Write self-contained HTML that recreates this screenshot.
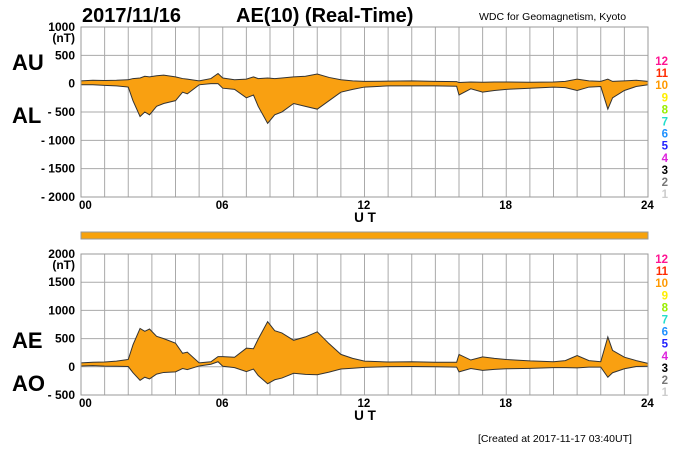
<!DOCTYPE html>
<html><head><meta charset="utf-8"><style>
body{margin:0;background:#fff;width:700px;height:450px;overflow:hidden}
svg{font-family:"Liberation Sans",Arial,sans-serif;font-weight:bold}
</style></head><body>
<svg id="c" width="700" height="450" xmlns="http://www.w3.org/2000/svg">
<text x="82" y="22" font-size="20">2017/11/16</text>
<text x="236" y="22" font-size="20">AE(10) (Real-Time)</text>
<text x="479" y="20" font-size="10.5" font-weight="normal">WDC for Geomagnetism, Kyoto</text>
<text x="12" y="70" font-size="22">AU</text>
<text x="12" y="123" font-size="22">AL</text>
<text x="12" y="348" font-size="22">AE</text>
<text x="12" y="391" font-size="22">AO</text>
<rect x="81" y="232" width="567" height="7" fill="#f7a20c" stroke="#999" stroke-width="1"/>
<text x="478" y="442" font-size="10.5" font-weight="normal">[Created at 2017-11-17 03:40UT]</text>
<g id="g"></g>
</svg>
<script>
const hours=[0,0.5,1,1.5,2,2.2,2.5,2.7,2.9,3.2,3.5,4,4.3,4.5,5,5.5,5.8,6,6.5,7,7.3,7.5,7.9,8.2,8.5,9,9.5,10,10.5,11,11.5,12,13,14,15,15.9,16,16.5,17,17.5,18,19,20,20.5,21,21.5,22,22.3,22.5,23,23.5,24];
const au=[50,60,55,60,70,90,100,130,120,140,150,120,90,80,50,90,180,100,70,80,120,90,100,90,100,120,130,170,110,70,50,40,45,50,40,35,20,30,25,30,30,25,30,40,80,50,40,80,40,50,60,40];
const al=[-20,-20,-30,-40,-60,-300,-580,-500,-550,-400,-350,-300,-150,-180,-20,0,0,-80,-100,-250,-200,-400,-700,-550,-500,-350,-400,-450,-300,-150,-100,-60,-40,-40,-40,-45,-200,-90,-150,-120,-100,-80,-60,-70,-120,-60,-50,-450,-250,-120,-50,-20];
const topTicks=[1000,500,0,-500,-1000,-1500,-2000];
const botTicks=[2000,1500,1000,500,0,-500];
const hourLabels=["00","06","12","18","24"];
const stations=["12","11","10","9","8","7","6","5","4","3","2","1"];
const stColors=["#ff1493","#ff2a00","#ff9900","#ffee00","#99ee00","#22ddcc","#1e90ff","#2222ff","#dd22dd","#000","#777","#ccc"];
const NS="http://www.w3.org/2000/svg",g=document.getElementById('g');
const X0=81,X1=648;
const xs=h=>X0+(X1-X0)*h/24;
function mk(t,a,name){const e=document.createElementNS(NS,t);for(const k in a)e.setAttribute(k,a[k]);


g.appendChild(e);return e;}
function panel(yTop,yBot,vmax,vmin,ticks,up,lo,pfx,legTop){
 const ys=v=>yTop+(vmax-v)*(yBot-yTop)/(vmax-vmin);
 for(let h=0;h<=24;h++)mk('line',{x1:xs(h),x2:xs(h),y1:yTop,y2:yBot,stroke:'#aaa','stroke-width':1},pfx+'-vgrid');
 ticks.forEach(t=>{mk('line',{x1:X0,x2:X1,y1:ys(t),y2:ys(t),stroke:'#aaa','stroke-width':1},pfx+'-hgrid');
  const lbl=t<0?'- '+(-t):String(t);
  const tx=mk('text',{x:75,y:ys(t)+4,'font-size':12,'text-anchor':'end'},pfx+'-y-tick');tx.textContent=lbl;});
 const tx=mk('text',{x:75,y:ys(ticks[0])+15,'font-size':12,'text-anchor':'end'},pfx+'-y-unit');tx.textContent='(nT)';
 let d='M'+hours.map((h,i)=>xs(h)+','+ys(up[i])).join('L');
 d+='L'+hours.map((h,i)=>i).reverse().map(i=>xs(hours[i])+','+ys(lo[i])).join('L')+'Z';
 mk('path',{d:d,fill:'#f9a011',stroke:'none'},pfx+'-fill');
 mk('path',{d:'M'+hours.map((h,i)=>xs(h)+','+ys(up[i])).join('L'),fill:'none',stroke:'#333','stroke-width':1},pfx+'-upper-line');
 mk('path',{d:'M'+hours.map((h,i)=>xs(h)+','+ys(lo[i])).join('L'),fill:'none',stroke:'#333','stroke-width':1},pfx+'-lower-line');
 mk('rect',{x:X0,y:yTop,width:X1-X0,height:yBot-yTop,fill:'none',stroke:'#999','stroke-width':1},pfx+'-frame');
 hourLabels.forEach((l,i)=>{const t=mk('text',{x:xs(i*6)+(i==0?-2:-7),y:yBot+12,'font-size':11.5},pfx+'-x-tick');t.textContent=l;});
 const u=mk('text',{x:365,y:yBot+25,'font-size':13.5,'text-anchor':'middle'},pfx+'-x-title');u.textContent='U T';
 stations.forEach((s,i)=>{const t=mk('text',{x:668,y:legTop+i*12.1,'font-size':11.5,'text-anchor':'end',fill:stColors[i]},pfx+'-station-legend');t.textContent=s;});
}
panel(27,197,1000,-2000,topTicks,au,al,'top',65);
const ae=au.map((v,i)=>v-al[i]);
const ao=au.map((v,i)=>(v+al[i])/2);
panel(254,395,2000,-500,botTicks,ae,ao,'bottom',263);
</script>
</body></html>
